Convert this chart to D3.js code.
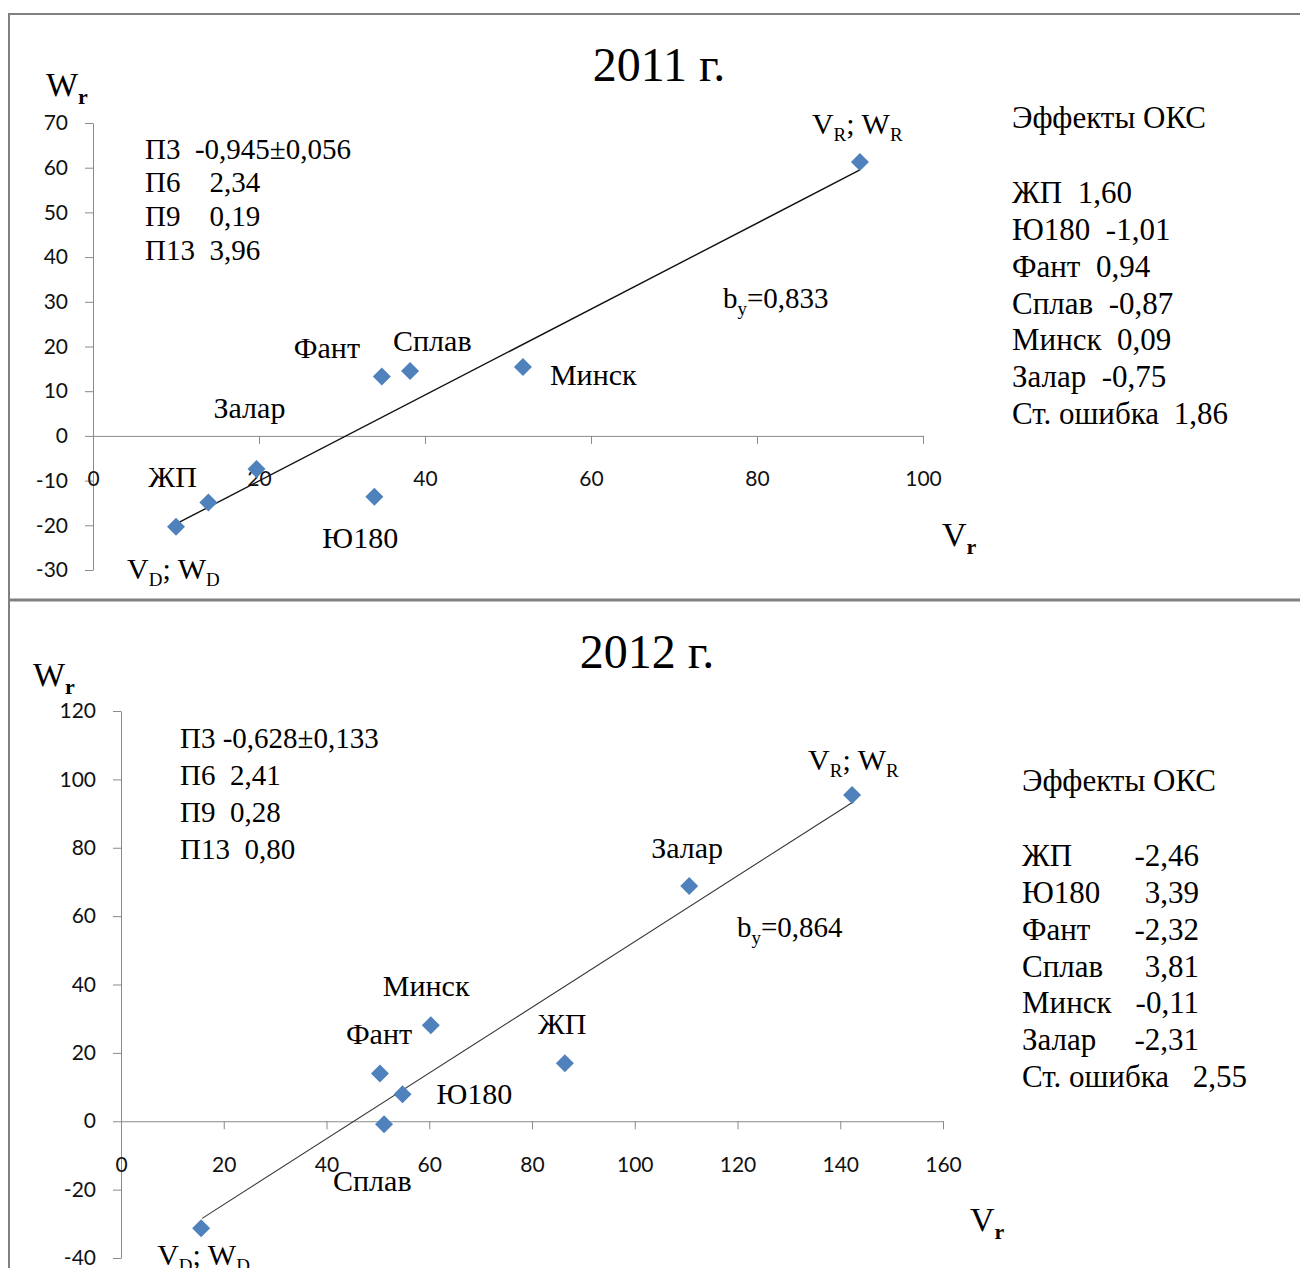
<!DOCTYPE html>
<html>
<head>
<meta charset="utf-8">
<script src="https://cdn.jsdelivr.net/npm/d3@7"></script>
<style>
  body { margin: 0; background: #fff; }
  svg { display: block; }
  .serif { font-family: "Liberation Serif", "Times New Roman", serif; white-space: pre; fill: #000; }
  .tick text { font-family: Lato, "Liberation Sans", sans-serif; font-size: 21px; fill: #111; }
</style>
</head>
<body>
<svg id="chart" width="1300" height="1268"></svg>
<script>

// 2011
const names2011 = ["V_D; W_D", "ЖП", "Залар", "Фант", "Сплав", "Ю180", "Минск", "V_R; W_R"]
const v2011 = [10.0, 13.9, 19.7, 34.8, 38.2, 33.9, 51.8, 92.4]
const w2011 = [-20.3, -14.9, -7.4, 13.3, 14.5, -13.6, 15.4, 61.3]
const trendV2011 = [10.0, 92.4]
const trendW2011 = [-19.7, 59.5]
const xTicks2011 = [0, 20, 40, 60, 80, 100]
const yTicks2011 = [-30, -20, -10, 0, 10, 20, 30, 40, 50, 60, 70]
const stats2011 = ["П3  -0,945±0,056", "П6    2,34", "П9    0,19", "П13  3,96"]
const effects2011 = ["ЖП  1,60", "Ю180  -1,01", "Фант  0,94", "Сплав  -0,87", "Минск  0,09", "Залар  -0,75"]
const stdErr2011 = ["Ст. ошибка", "1,86"]

// 2012
const names2012 = ["V_D; W_D", "Фант", "Ю180", "Сплав", "Минск", "ЖП", "Залар", "V_R; W_R"]
const v2012 = [15.6, 50.4, 54.8, 51.2, 60.3, 86.4, 110.6, 142.3]
const w2012 = [-31.3, 14.0, 7.9, -0.9, 28.1, 17.0, 68.8, 95.4]
const trendV2012 = [15.8, 142.5]
const trendW2012 = [-28.4, 93.4]
const xTicks2012 = [0, 20, 40, 60, 80, 100, 120, 140, 160]
const yTicks2012 = [-40, -20, 0, 20, 40, 60, 80, 100, 120]
const stats2012 = ["П3 -0,628±0,133", "П6  2,41", "П9  0,28", "П13  0,80"]
const effNames2012 = ["ЖП", "Ю180", "Фант", "Сплав", "Минск", "Залар"]
const effValues2012 = ["-2,46", "3,39", "-2,32", "3,81", "-0,11", "-2,31"]
const stdErr2012 = ["Ст. ошибка", "2,55"]

const svg = d3.select("#chart")

// text with _X subscripts
function rich(g, x, cy, str, fs, subBold) {
  let t = g.append("text").attr("class", "serif")
           .attr("x", x).attr("y", cy + fs * 0.33)
           .style("font-size", fs + "px")
  let parts = str.split(/_(.)/)
  let sub = Math.round(fs * 0.64), shift = Math.round(fs * 0.24)
  parts.forEach(function(p, i) {
    if (p === "") return
    if (i % 2 == 1) {
      t.append("tspan").attr("dy", shift).style("font-size", sub + "px")
       .style("font-weight", subBold ? "bold" : null).text(p)
    } else {
      t.append("tspan").attr("dy", i > 0 ? -shift : 0).text(p)
    }
  })
  return t
}

function drawPanel(c) {

  let g = svg.append("g")
  let x = d3.scaleLinear().domain(c.xDomain).range(c.xRange)
  let y = d3.scaleLinear().domain(c.yDomain).range(c.yRange)
  let plain = function(d) { return String(d) }

  g.append("g")
   .attr("transform", "translate(" + x(0) + ",0)")
   .call(d3.axisLeft(y).tickValues(c.yTicks).tickFormat(plain)
           .tickSize(8).tickSizeOuter(0).tickPadding(17))

  let xa = g.append("g")
            .attr("transform", "translate(0," + y(0) + ")")
            .call(d3.axisBottom(x).tickValues(c.xTicks).tickFormat(plain)
                    .tickSize(8).tickSizeOuter(0))
  xa.selectAll(".tick text").attr("y", 43).attr("dy", "0.35em")

  g.selectAll(".domain, .tick line").attr("stroke", "#8a8a8a")

  g.append("line")
   .attr("x1", x(c.trendV[0])).attr("y1", y(c.trendW[0]))
   .attr("x2", x(c.trendV[1])).attr("y2", y(c.trendW[1]))
   .attr("stroke", c.lineColor).attr("stroke-width", c.lineWidth)

  g.selectAll(".pt")
   .data(d3.range(c.v.length))
   .join("path")
   .attr("class", "pt")
   .attr("d", d3.symbol(d3.symbolSquare, 162))
   .attr("transform", function(i) {
     return "translate(" + x(c.v[i]) + "," + y(c.w[i]) + ") rotate(45)"
   })
   .attr("fill", "#4f81bd")

  c.names.forEach(function(n, i) {
    rich(g, x(c.v[i]) + c.labelOffsets[i][0], y(c.w[i]) + c.labelOffsets[i][1], n, 30)
  })

  g.append("text").attr("class", "serif")
   .attr("x", c.title[1]).attr("y", c.title[2] + 16)
   .attr("text-anchor", "middle").style("font-size", "48px")
   .text(c.title[0])

  rich(g, c.wLabel[0], c.wLabel[1], "W_r", 34, true)
  rich(g, c.vLabel[0], c.vLabel[1], "V_r", 34, true)
  rich(g, c.bLabel[0], c.bLabel[1], c.b, 29)

  c.stats.forEach(function(s, i) {
    rich(g, c.statsPos[0], c.statsPos[1] + i * c.statsPos[2], s, 29)
  })

  rich(g, c.effPos[0], c.effPos[1], "Эффекты ОКС", 31)
  c.effects.forEach(function(s, i) {
    rich(g, c.effPos[0], c.effPos[2] + i * c.effPos[3], s, 31)
  })
  if (c.effValues) {
    c.effValues.forEach(function(s, i) {
      rich(g, c.effValueX, c.effPos[2] + i * c.effPos[3], s, 31).attr("text-anchor", "end")
    })
  }
  let ey = c.effPos[2] + c.effects.length * c.effPos[3]
  rich(g, c.effPos[0], ey, c.stdErr[0], 31)
  rich(g, c.stdErrX, ey, c.stdErr[1], 31).attr("text-anchor", "end")
}

// frame
svg.append("line").attr("x1", 9).attr("y1", 14).attr("x2", 1300).attr("y2", 14)
   .attr("stroke", "#808080").attr("stroke-width", 2)
svg.append("line").attr("x1", 9).attr("y1", 13).attr("x2", 9).attr("y2", 1268)
   .attr("stroke", "#808080").attr("stroke-width", 2)
svg.append("line").attr("x1", 9).attr("y1", 600).attr("x2", 1300).attr("y2", 600)
   .attr("stroke", "#808080").attr("stroke-width", 3)

drawPanel({
  names: names2011, v: v2011, w: w2011,
  trendV: trendV2011, trendW: trendW2011,
  xTicks: xTicks2011, yTicks: yTicks2011,
  xDomain: [0, 100], xRange: [93, 923],
  yDomain: [-30, 70], yRange: [570, 123],
  lineColor: "#111", lineWidth: 1.4,
  labelOffsets: [[-49, 42], [-60, -25], [-43, -61], [-88, -28], [-17, -30], [-52, 41], [27, 8], [-48, -38]],
  title: ["2011 г.", 659, 65],
  wLabel: [46, 85], vLabel: [942, 535],
  b: "b_y=0,833", bLabel: [723, 298],
  stats: stats2011, statsPos: [145, 149, 33.7],
  effects: effects2011, effPos: [1012, 118, 193, 36.8],
  stdErr: stdErr2011, stdErrX: 1228
})

drawPanel({
  names: names2012, v: v2012, w: w2012,
  trendV: trendV2012, trendW: trendW2012,
  xTicks: xTicks2012, yTicks: yTicks2012,
  xDomain: [0, 160], xRange: [121, 943],
  yDomain: [-40, 120], yRange: [1258, 711],
  lineColor: "#333", lineWidth: 1.1,
  labelOffsets: [[-44, 27], [-34, -39], [34, 0], [-51, 57], [-48, -39], [-27, -39], [-38, -38], [-44, -35]],
  title: ["2012 г.", 647, 652],
  wLabel: [33, 675], vLabel: [970, 1220],
  b: "b_y=0,864", bLabel: [737, 927],
  stats: stats2012, statsPos: [180, 738, 37.3],
  effects: effNames2012, effValues: effValues2012, effValueX: 1199, effPos: [1022, 781, 856, 36.8],
  stdErr: stdErr2012, stdErrX: 1247
})

</script>
</body>
</html>
